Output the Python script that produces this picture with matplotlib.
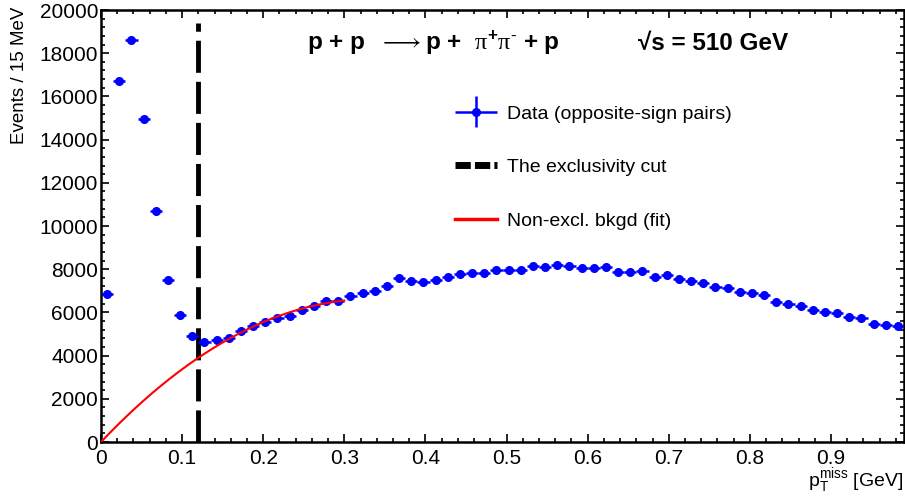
import numpy as np
import matplotlib
matplotlib.use("Agg")
import matplotlib.pyplot as plt
from matplotlib.lines import Line2D
from matplotlib.ticker import MultipleLocator
from matplotlib.legend_handler import HandlerErrorbar

plt.rcParams['font.family'] = ['Liberation Sans', 'DejaVu Sans']
plt.rcParams['mathtext.fontset'] = 'custom'
plt.rcParams['mathtext.rm'] = 'Liberation Sans'
plt.rcParams['mathtext.cal'] = 'Liberation Serif'
plt.rcParams['mathtext.default'] = 'regular'

# histogram: 15 MeV bins from 0 to 0.99 GeV
bin_width = 0.015
n_bins = 66
counts = [6860, 16690, 18630, 14970, 10700, 7480, 5860, 4900, 4645, 4700,
          4820, 5130, 5375, 5570, 5730, 5820, 6100, 6285, 6540, 6545,
          6775, 6885, 7005, 7240, 7610, 7470, 7425, 7500, 7655, 7760,
          7840, 7840, 7965, 7965, 7965, 8165, 8120, 8210, 8150, 8040,
          8070, 8085, 7885, 7855, 7915, 7655, 7730, 7545, 7470, 7345,
          7160, 7115, 6960, 6885, 6805, 6500, 6375, 6295, 6110, 6035,
          5955, 5770, 5755, 5445, 5415, 5370]

# fit (second order polynomial), drawn up to 0.3 GeV
fit_p1 = 39600.0
fit_p2 = -59250.0
fit_range = (0.0, 0.3)

cut_value = 0.12

edges = np.arange(n_bins + 1) * bin_width
centers = 0.5 * (edges[:-1] + edges[1:])
counts = np.array(counts, dtype=float)

fig = plt.figure(figsize=(9.05, 4.97), dpi=100)
ax = fig.add_axes([101/905, 1 - 442/497, 803/905, 432/497])

eb = ax.errorbar(centers, counts, xerr=bin_width/2, yerr=np.sqrt(counts),
                 fmt='o', color='blue', ms=5.5, elinewidth=1.8, capsize=0,
                 zorder=3)

xf = np.linspace(fit_range[0], fit_range[1], 200)
ax.plot(xf, fit_p1*xf + fit_p2*xf**2, color='red', lw=1.5, zorder=4)

ax.plot([cut_value, cut_value], [0, 19400], color='black', lw=3.5,
        dashes=(6.6, 1.85), zorder=2)

ax.set_xlim(0, 0.99)
ax.set_ylim(0, 20000)
ax.xaxis.set_minor_locator(MultipleLocator(0.02))
ax.yaxis.set_major_locator(MultipleLocator(2000))
ax.yaxis.set_minor_locator(MultipleLocator(400))
ax.set_xticks(np.arange(0, 1.0, 0.1))
ax.set_xticklabels(['0', '0.1', '0.2', '0.3', '0.4', '0.5', '0.6', '0.7', '0.8', '0.9'])
ax.tick_params(which='both', direction='in', top=True, right=True, width=1.2)
ax.tick_params(which='major', length=6, labelsize=15)
ax.tick_params(which='minor', length=3)
ax.tick_params(axis='x', pad=5)
ax.tick_params(axis='y', pad=2)
for s in ax.spines.values():
    s.set_linewidth(1.8)

fig.text(19/905, 1 - 7/497, 'Events / 15 MeV', fontsize=13.5, rotation=90,
         ha='center', va='top')
fig.text(903/905, 2/497, r'p$_{T}^{miss}$ [GeV]', fontsize=14,
         ha='right', va='bottom')

handles = [
    eb,
    Line2D([], [], color='black', lw=5, dashes=(2.2, 0.6)),
    Line2D([], [], color='red', lw=2.5),
]
labels = ['Data (opposite-sign pairs)', 'The exclusivity cut', 'Non-excl. bkgd (fit)']
ax.legend(handles, labels, loc='upper left', frameon=False, fontsize=14,
          bbox_to_anchor=(455/905, 1 - 105/497), bbox_transform=fig.transFigure,
          borderpad=0, borderaxespad=0, handlelength=2.15, handletextpad=0.5,
          labelspacing=1.85,
          handler_map={type(eb): HandlerErrorbar(xerr_size=1.1, yerr_size=0.8)})

fig.text(307/905, 1 - 43/497,
         r'p + p  $\longrightarrow$p +  $\mathcal{π}^{+}\mathcal{π}^{\text{-}}$ + p',
         fontsize=17.5, fontweight='bold', va='center', ha='left')
fig.text(638/905, 1 - 43/497, '√s = 510 GeV', fontsize=17.5,
         fontweight='bold', va='center', ha='left')

fig.savefig('out.png', dpi=100)
